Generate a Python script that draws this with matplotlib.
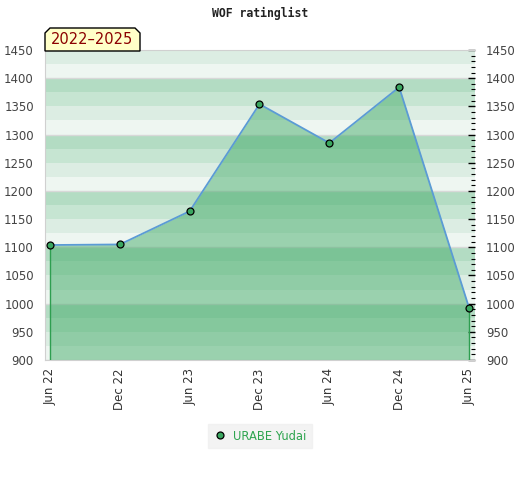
import matplotlib.pyplot as plt
from matplotlib.patches import Polygon
from matplotlib.ticker import MultipleLocator
from matplotlib.lines import Line2D

# rating history
periods = ['Jun 22', 'Dec 22', 'Jun 23', 'Dec 23', 'Jun 24', 'Dec 24', 'Jun 25']
ratings = [1104, 1105, 1164, 1354, 1285, 1384, 993]
player = 'URABE Yudai'
span_label = '2022\u20132025'
y_min, y_max = 900, 1450

W, H = 520, 480
fig = plt.figure(figsize=(W / 100, H / 100), dpi=100)
ax = fig.add_axes([45 / W, 1 - 360 / H, (475 - 45) / W, (360 - 50) / H])

# striped background, 4 bands per 100 points
band_cols = ['#eef6f1', '#dcede3', '#c6e5d2', '#b3dcc3']
for lo in range(y_min, y_max, 25):
    ax.axhspan(lo, lo + 25, color=band_cols[(lo % 100) // 25], lw=0, zorder=0)
for g in range(y_min, y_max + 1, 100):
    ax.axhline(g, color='#d8d8d8', lw=1, zorder=1)

x = list(range(len(periods)))
ax.fill_between(x, ratings, y_min, color='#3da964', alpha=0.475, lw=0, zorder=2)
ax.vlines([x[0], x[-1]], y_min, [ratings[0], ratings[-1]], color='#2e9e50', lw=1, zorder=3)
ax.plot(x, ratings, color='#5b9bd5', lw=1.3, zorder=4)
ax.plot(x, ratings, 'o', ms=5, mfc='#3aa660', mec='black', mew=0.9, zorder=5)

ax.set_xlim(-5 / 69.83, 6 + 6 / 69.83)
ax.set_ylim(y_min, y_max)
ax.set_xticks(x)
ax.set_xticklabels(periods, rotation=90, fontsize=8.5, color='#333333')
ax.tick_params(axis='x', length=0, pad=6)

ax.yaxis.set_major_locator(MultipleLocator(50))
ax.tick_params(axis='y', which='both', left=False, right=True, labelleft=True,
               labelright=True, direction='in', labelsize=8.5)
ax.tick_params(axis='y', which='major', length=5, width=1, color='black', pad=8)
ax.yaxis.set_minor_locator(MultipleLocator(10))
ax.tick_params(axis='y', which='minor', length=3, width=0.8, color='black')
for lab in ax.get_yticklabels():
    lab.set_color('#444444')

for s in ['top', 'left', 'bottom']:
    ax.spines[s].set_color('#d0d0d0')
ax.spines['right'].set_visible(False)

fig.text(260 / W, 1 - 13 / H, 'WOF ratinglist', ha='center', va='center',
         family='DejaVu Sans Mono', weight='bold', fontsize=8.3, color='#222222')

# year range tag with cut corners
pts = [(45, 51), (45, 33), (50, 28), (135, 28), (140, 33), (140, 51)]
tag = Polygon([(px / W, 1 - py / H) for px, py in pts], closed=True,
              transform=fig.transFigure, fc='#ffffc8', ec='black', lw=1, zorder=10)
fig.patches.append(tag)
fig.text(92 / W, 1 - 40 / H, span_label, ha='center', va='center',
         fontsize=10.5, color='#8b0000', zorder=11)

handle = Line2D([], [], ls='none', marker='o', ms=5, mfc='#3aa660', mec='black', mew=0.9)
fig.legend([handle], [player], loc='center', bbox_to_anchor=(260 / W, 1 - 436 / H),
           frameon=True, facecolor='#f0f0f0', edgecolor='#f0f0f0', fancybox=False,
           fontsize=8.3, labelcolor='#2ea44f', handletextpad=0.5, borderpad=0.45,
           handlelength=1.2)

fig.savefig('out.png', dpi=100)
